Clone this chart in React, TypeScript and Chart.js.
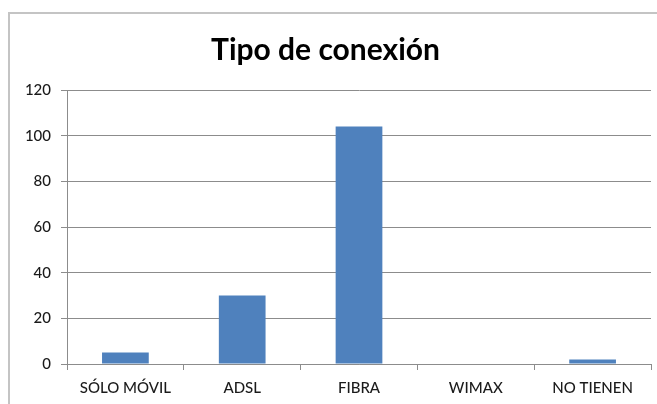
import React, { useEffect, useRef } from "react";
import { Chart, registerables } from "chart.js";

Chart.register(...registerables);

const categories = ["SÓLO MÓVIL", "ADSL", "FIBRA", "WIMAX", "NO TIENEN"];
const values = [5, 30, 104, 0, 2];
const yTicks = [0, 20, 40, 60, 80, 100, 120];
const title = "Tipo de conexión";

const FONT = "Lato, 'Open Sans', sans-serif";

const framePlugin = {
  id: "frame",
  beforeDraw(chart: any) {
    const ctx = chart.ctx;
    ctx.save();
    ctx.fillStyle = "#ffffff";
    ctx.fillRect(0, 0, chart.width, chart.height);
    ctx.strokeStyle = "#c4c4c4";
    ctx.lineWidth = 2;
    ctx.beginPath();
    ctx.moveTo(9, chart.height);
    ctx.lineTo(9, 13);
    ctx.lineTo(chart.width, 13);
    ctx.stroke();
    ctx.restore();
  },
};

export default function App() {
  const ref = useRef<HTMLCanvasElement | null>(null);
  useEffect(() => {
    if (!ref.current) return;
    const chart = new Chart(ref.current, {
      type: "bar",
      data: {
        labels: categories,
        datasets: [
          {
            data: values,
            backgroundColor: "#4f81bd",
            borderWidth: 0,
            categoryPercentage: 1,
            barPercentage: 0.4,
          },
        ],
      },
      options: {
        animation: false,
        responsive: false,
        devicePixelRatio: 1,
        layout: { padding: { left: 0, right: 6, top: 0, bottom: 0 } },
        plugins: {
          legend: { display: false },
          tooltip: { enabled: false },
          title: {
            display: true,
            text: title,
            color: "#000000",
            font: { family: FONT, size: 30, weight: "bold" },
            padding: { top: 32, bottom: 22 },
          },
        },
        scales: {
          x: {
            grid: {
              display: true,
              drawOnChartArea: false,
              drawTicks: true,
              tickLength: 6,
              color: "#8c8c8c",
              offset: true,
            },
            border: { display: true, color: "#8c8c8c", width: 1 },
            ticks: {
              color: "#1a1a1a",
              font: { family: FONT, size: 15, weight: 500 },
              padding: 9,
              maxRotation: 0,
              autoSkip: false,
            },
            afterFit(scale: any) {
              scale.height = 40;
            },
          },
          y: {
            min: 0,
            max: 120,
            afterBuildTicks(scale: any) {
              scale.ticks = yTicks.map((v) => ({ value: v }));
            },
            grid: {
              color: "#8c8c8c",
              tickLength: 6,
              drawTicks: true,
            },
            border: { display: true, color: "#8c8c8c", width: 1 },
            ticks: {
              color: "#1a1a1a",
              font: { family: FONT, size: 15, weight: 500 },
              padding: 10,
            },
            afterFit(scale: any) {
              scale.width = 67;
            },
          },
        },
      },
      plugins: [framePlugin],
    });
    return () => chart.destroy();
  }, []);
  return (
    <div style={{ position: "fixed", left: 0, top: 0, width: 657, height: 404 }}>
      <canvas ref={ref} width={657} height={404} style={{ width: 657, height: 404 }} />
    </div>
  );
}
